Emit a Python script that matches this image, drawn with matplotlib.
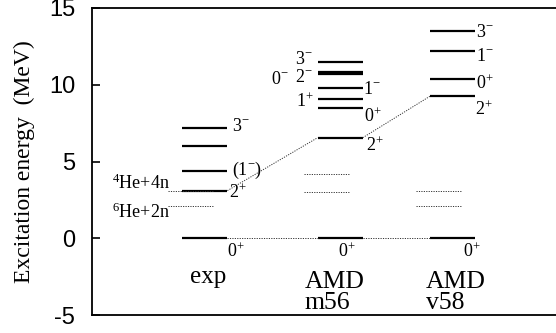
import matplotlib
matplotlib.use("Agg")
import matplotlib.pyplot as plt

plt.rcParams['mathtext.fontset'] = 'custom'
plt.rcParams['mathtext.rm'] = 'Liberation Serif'
plt.rcParams['mathtext.it'] = 'Liberation Serif'

# level energies (MeV) for each column
exp_levels = [0.0, 3.1, 4.4, 6.0, 7.2]
m56_levels = [0.0, 6.55, 8.5, 9.05, 9.82, 10.72, 10.86, 11.46]
v58_levels = [0.0, 9.25, 10.35, 12.2, 13.5]

# threshold energies (dotted)
exp_thr = [3.1, 2.1]
m56_thr = [4.2, 3.0]
v58_thr = [3.1, 2.1]
thr_labels = [r'$^4$He+4n', r'$^6$He+2n']

# column extents (x in axis units)
col_x = {'exp': (1.92, 2.88), 'm56': (4.80, 5.76), 'v58': (7.19, 8.15)}
thr_shift = 0.30

# spin-parity labels: (x, y, text)
sp = '$^{+}$'
sm = '$^{-}$'
exp_spin = [(2.88, -0.85, '0' + sp), (2.92, 3.0, '2' + sp),
            (2.98, 4.45, '(1' + sm + ')'), (2.98, 7.25, '3' + sm)]
m56_left = [(4.31, 11.65, '3' + sm), (4.31, 10.5, '2' + sm),
            (3.80, 10.35, '0' + sm), (4.33, 8.9, '1' + sp)]
m56_right = [(5.76, 9.7, '1' + sm), (5.78, 7.95, '0' + sp),
             (5.82, 6.0, '2' + sp), (5.24, -0.85, '0' + sp)]
v58_spin = [(8.18, 13.4, '3' + sm), (8.18, 11.85, '1' + sm),
            (8.18, 10.05, '0' + sp), (8.15, 8.35, '2' + sp),
            (7.90, -0.85, '0' + sp)]

fig = plt.figure(figsize=(5.56, 3.33), dpi=100)
ax = fig.add_axes([92 / 556, 1 - 315 / 333, 470 / 556, 307 / 333])

lw_lev = 1.6
for key, levs in (('exp', exp_levels), ('m56', m56_levels), ('v58', v58_levels)):
    x0, x1 = col_x[key]
    for e in levs:
        ax.plot([x0, x1], [e, e], color='black', lw=lw_lev, solid_capstyle='butt')

dot = dict(color='#333333', lw=0.7, ls=(0, (1.2, 1.3)))
for key, thrs in (('exp', exp_thr), ('m56', m56_thr), ('v58', v58_thr)):
    x0, x1 = col_x[key]
    for e in thrs:
        ax.plot([x0 - thr_shift, x1 - thr_shift], [e, e], **dot)

# connecting dotted lines (ground and 2+)
ax.plot([col_x['exp'][1], col_x['m56'][0]], [exp_levels[0], m56_levels[0]], **dot)
ax.plot([col_x['m56'][1], col_x['v58'][0]], [m56_levels[0], v58_levels[0]], **dot)
ax.plot([col_x['exp'][1], col_x['m56'][0]], [exp_levels[1], m56_levels[1]], **dot)
ax.plot([col_x['m56'][1], col_x['v58'][0]], [m56_levels[1], v58_levels[1]], **dot)

serif = 'Liberation Serif'
for x, y, t in exp_spin + m56_left + m56_right + v58_spin:
    ax.text(x, y, t, family=serif, fontsize=13, va='center', ha='left')

ax.text(1.66, 3.55, thr_labels[0], family=serif, fontsize=13, ha='right', va='center')
ax.text(1.66, 1.7, thr_labels[1], family=serif, fontsize=13, ha='right', va='center')

ax.text(2.09, -2.55, 'exp', family=serif, fontsize=18, ha='left', va='center')
ax.text(4.53, -2.85, 'AMD', family=serif, fontsize=18.5, ha='left', va='center')
ax.text(4.53, -4.2, 'm56', family=serif, fontsize=18.5, ha='left', va='center')
ax.text(7.10, -2.85, 'AMD', family=serif, fontsize=18.5, ha='left', va='center')
ax.text(7.10, -4.2, 'v58', family=serif, fontsize=18.5, ha='left', va='center')

ax.set_xlim(0, 10)
ax.set_ylim(-5, 15)
ax.set_xticks([])
ax.set_yticks([-5, 0, 5, 10, 15])
ax.set_yticklabels(['-5', '0', '5', '10', '15'], family='Liberation Sans', fontsize=17)
ax.tick_params(axis='y', direction='in', length=6, width=1.2, pad=12)
for s in ax.spines.values():
    s.set_linewidth(1.3)
ax.set_ylabel('Excitation energy  (MeV)', family=serif, fontsize=17, labelpad=10)

fig.savefig('out.png', dpi=100)
